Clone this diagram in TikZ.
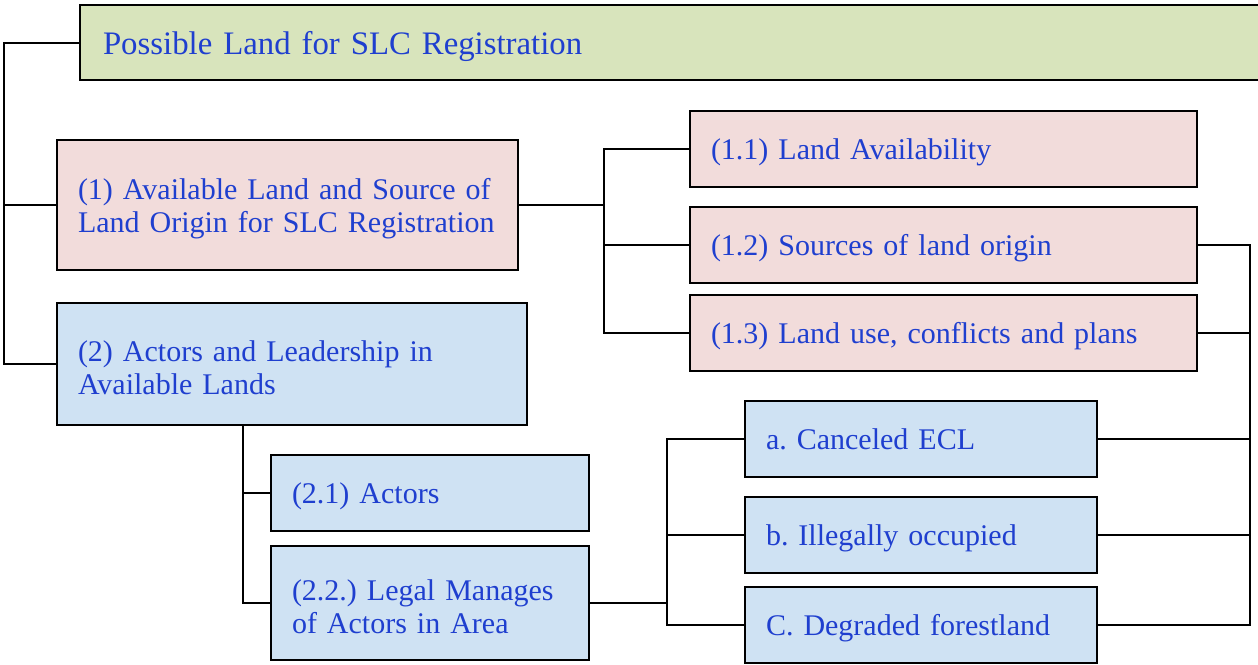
\documentclass[tikz,border=0pt]{standalone}
\usepackage{fontspec}
\setmainfont{Liberation Serif}
\frenchspacing
\definecolor{topgreen}{HTML}{D8E4BC}
\definecolor{boxpink}{HTML}{F2DCDB}
\definecolor{boxblue}{HTML}{CFE2F3}
\definecolor{textblue}{HTML}{1F3FCF}
\tikzset{
	box/.style={draw, line width=1pt, align=left, inner xsep=10.5pt, text=textblue, font=\fontsize{15}{16.5}\selectfont, execute at end node={\vspace*{-4pt}}},
	link/.style={line width=1pt},
}
\begin{document}
\begin{tikzpicture}[x=0.5pt, y=-0.5pt]
		\useasboundingbox (0,0) rectangle (1258,664);

		% Define the boxes
		\node[box, fill=topgreen, text width=568pt, minimum height=37.5pt, inner xsep=11.5pt, font=\fontsize{16.4}{18}\selectfont] (top) at (671,42.5) {Possible Land for SLC Registration};
		\node[box, fill=boxpink, text width=209.5pt, minimum height=65pt] (n1) at (287.5,205) {(1) Available Land and Source of\\Land Origin for SLC Registration};
		\node[box, fill=boxblue, text width=214pt, minimum height=61pt] (n2) at (292,364) {(2) Actors and Leadership in\\Available Lands};
		\node[box, fill=boxpink, text width=232.5pt, minimum height=38pt] (n11) at (943.5,149) {(1.1) Land Availability};
		\node[box, fill=boxpink, text width=232.5pt, minimum height=38pt] (n12) at (943.5,245) {(1.2) Sources of land origin};
		\node[box, fill=boxpink, text width=232.5pt, minimum height=38pt] (n13) at (943.5,333) {(1.3) Land use, conflicts and plans};
		\node[box, fill=boxblue, text width=138pt, minimum height=38pt] (n21) at (430,493) {(2.1) Actors};
		\node[box, fill=boxblue, text width=138pt, minimum height=57pt] (n22) at (430,603) {(2.2.) Legal Manages\\of Actors in Area};
		\node[box, fill=boxblue, text width=155pt, minimum height=38pt] (na) at (921,439) {a. Canceled ECL};
		\node[box, fill=boxblue, text width=155pt, minimum height=38pt] (nb) at (921,535) {b. Illegally occupied};
		\node[box, fill=boxblue, text width=155pt, minimum height=38pt] (nc) at (921,625) {C. Degraded forestland};

		% Define the joints
		\coordinate (j1) at (604,205);
		\coordinate (j2) at (243,425);
		\coordinate (j3) at (667,603);
		\coordinate (j4) at (1250,245);

		% Define the connectors
		\draw[link] (top.west) -- ++(-75,0) |- (n2.west);
		\draw[link] (n1.west) -- ++(-52,0);
		\draw[link] (n1.east) -- (j1);
		\draw[link] (n11.west) -| (j1) |- (n13.west);
		\draw[link] (j1 |- n12.west) -- (n12.west);
		\draw[link] (j2) |- (n21.west);
		\draw[link] (j2) |- (n22.west);
		\draw[link] (n22.east) -- (j3);
		\draw[link] (na.west) -| (j3) |- (nc.west);
		\draw[link] (j3 |- nb.west) -- (nb.west);
		\draw[link] (n12.east) -- (j4) |- (nc.east);
		\foreach \n in {n13, na, nb}
			\draw[link] (\n.east) -- (\n.east -| j4);
	\end{tikzpicture}
\end{document}
